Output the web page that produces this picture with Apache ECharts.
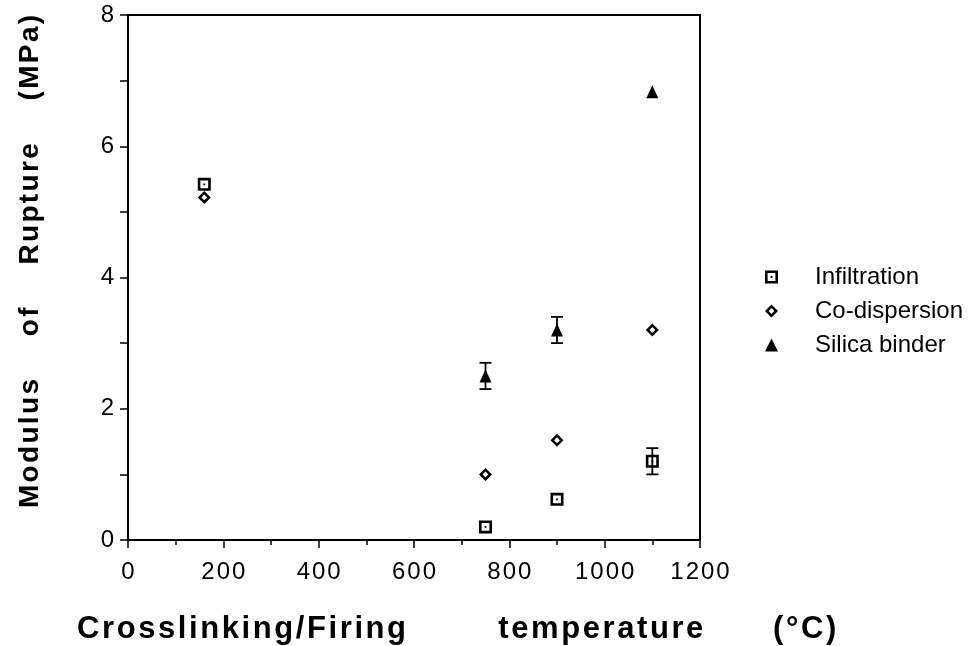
<!DOCTYPE html>
<html>
<head>
<meta charset="utf-8">
<script src="https://cdn.jsdelivr.net/npm/echarts@6/dist/echarts.min.js"></script>
<style>
  html, body { margin: 0; padding: 0; background: #fff; }
  #main { width: 974px; height: 646px; }
</style>
</head>
<body>
<div id="main"></div>
<script>
// data
var infiltration = [[160, 5.42], [750, 0.2], [900, 0.62], [1100, 1.2]];
var coDispersion = [[160, 5.22], [750, 1.0], [900, 1.52], [1100, 3.2]];
var silicaBinder = [[750, 2.5], [900, 3.2], [1100, 6.83]];
// error bars: [x, low, high]
var infiltrationErr = [[1100, 1.0, 1.4]];
var silicaErr = [[750, 2.3, 2.7], [900, 3.0, 3.4]];

var xTitle = 'Crosslinking/Firing        temperature      (°C)';
var yTitle = 'Modulus    of    Rupture    (MPa)';

// mimic the loose letter spacing of the original
function spaced(s) { return String(s).split('').join('\u200a'); }

var squareDot = 'path://M0 0L13 0L13 13L0 13ZM2.6 2.6L2.6 10.4L10.4 10.4L10.4 2.6ZM5.6 5.6L7.4 5.6L7.4 7.4L5.6 7.4Z';
var diamond = 'path://M6 0L12 6L6 12L0 6ZM6 3.3L3.3 6L6 8.7L8.7 6Z';

function errBar(params, api) {
  var x = api.value(0);
  var lo = api.coord([x, api.value(1)]);
  var hi = api.coord([x, api.value(2)]);
  var w = 6;
  var st = { stroke: '#000', lineWidth: 1.8 };
  return {
    type: 'group',
    children: [
      { type: 'line', shape: { x1: lo[0], y1: lo[1], x2: hi[0], y2: hi[1] }, style: st },
      { type: 'line', shape: { x1: lo[0] - w, y1: lo[1], x2: lo[0] + w, y2: lo[1] }, style: st },
      { type: 'line', shape: { x1: hi[0] - w, y1: hi[1], x2: hi[0] + w, y2: hi[1] }, style: st }
    ]
  };
}

var font = 'Liberation Sans, Arial, Helvetica, sans-serif';
var myChart = echarts.init(document.getElementById('main'));

var option = {
  backgroundColor: '#fff',
  animation: false,
  textStyle: { fontFamily: font, color: '#000' },
  title: {
    text: spaced(xTitle),
    left: 72,
    top: 609,
    textStyle: { fontFamily: font, fontSize: 31, fontWeight: 'bold', color: '#000' }
  },
  grid: {
    left: 128, right: 274, top: 15, bottom: 106,
    show: true, borderColor: '#000', borderWidth: 2
  },
  legend: {
    orient: 'vertical',
    left: 760,
    top: 260,
    itemWidth: 13,
    itemHeight: 13,
    itemGap: 10,
    textStyle: { fontFamily: font, fontSize: 24, color: '#000', padding: [0, 0, 0, 32] },
    data: ['Infiltration', 'Co-dispersion', 'Silica binder']
  },
  xAxis: {
    type: 'value',
    min: 0, max: 1200, interval: 200,
    splitLine: { show: false },
    axisLine: { lineStyle: { color: '#000', width: 2 } },
    axisTick: { length: 8, lineStyle: { color: '#000', width: 1.5 } },
    minorTick: { show: true, splitNumber: 2, length: 5, lineStyle: { color: '#000', width: 1.5 } },
    axisLabel: { fontSize: 24, color: '#000', margin: 20, formatter: function (v) { return spaced(v); } }
  },
  yAxis: {
    type: 'value',
    min: 0, max: 8, interval: 2,
    splitLine: { show: false },
    axisLine: { lineStyle: { color: '#000', width: 2 } },
    axisTick: { length: 8, lineStyle: { color: '#000', width: 1.5 } },
    minorTick: { show: true, splitNumber: 2, length: 8, lineStyle: { color: '#000', width: 1.5 } },
    axisLabel: { fontSize: 24, color: '#000', margin: 14 },
    name: spaced(yTitle),
    nameLocation: 'middle',
    nameGap: 84,
    nameTextStyle: { fontFamily: font, fontSize: 28, fontWeight: 'bold', color: '#000', padding: [0, 0, 0, 32] }
  },
  series: [
    {
      type: 'custom', name: 'infErr', renderItem: errBar, data: infiltrationErr, z: 1,
      silent: true
    },
    {
      type: 'custom', name: 'silErr', renderItem: errBar, data: silicaErr, z: 1,
      silent: true
    },
    {
      name: 'Infiltration', type: 'scatter', data: infiltration, z: 3,
      symbol: squareDot, symbolSize: 13,
      itemStyle: { color: '#000', opacity: 1 }
    },
    {
      name: 'Co-dispersion', type: 'scatter', data: coDispersion, z: 3,
      symbol: diamond, symbolSize: 13,
      itemStyle: { color: '#000', opacity: 1 }
    },
    {
      name: 'Silica binder', type: 'scatter', data: silicaBinder, z: 3,
      symbol: 'triangle', symbolSize: [12, 13],
      itemStyle: { color: '#000', opacity: 1 }
    }
  ]
};

myChart.setOption(option);
</script>
</body>
</html>
